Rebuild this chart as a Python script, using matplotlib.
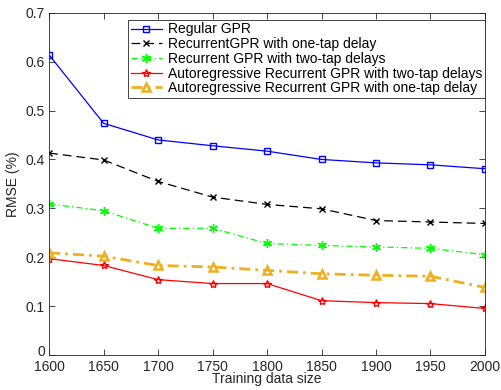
import matplotlib
matplotlib.use("Agg")
import matplotlib.pyplot as plt
import matplotlib.transforms as mtransforms

#------------------------------- DATA -----------------------------------------

sizes = [1600, 1650, 1700, 1750, 1800, 1850, 1900, 1950, 2000]

regular_gpr = [0.614, 0.474, 0.440, 0.428, 0.417, 0.400, 0.393, 0.389, 0.381]
rgpr_one_tap = [0.413, 0.399, 0.355, 0.323, 0.308, 0.299, 0.275, 0.272, 0.269]
rgpr_two_tap = [0.309, 0.295, 0.259, 0.259, 0.228, 0.224, 0.221, 0.218, 0.205]
argpr_two_tap = [0.197, 0.183, 0.154, 0.146, 0.146, 0.111, 0.107, 0.105, 0.095]
argpr_one_tap = [0.209, 0.202, 0.183, 0.180, 0.173, 0.166, 0.163, 0.161, 0.138]

labels = ["Regular GPR",
          "RecurrentGPR with one-tap delay",
          "Recurrent GPR with two-tap delays",
          "Autoregressive Recurrent GPR with two-tap delays",
          "Autoregressive Recurrent GPR with one-tap delay"]

#------------------------------- PLOT -----------------------------------------

plt.rcParams["font.family"] = ["Liberation Sans", "DejaVu Sans"]
plt.rcParams["font.size"] = 10

fig = plt.figure(figsize=(5.01, 3.90), dpi=100)
ax = fig.add_axes([0.098, 0.09, 0.870, 0.877])

asterisk = (6, 2, 0)

ax.plot(sizes, regular_gpr, color="#0000ff", lw=0.9, marker="s", ms=4
        , mfc="none", mec="#0000ff", label=labels[0])
ax.plot(sizes, rgpr_one_tap, color="black", lw=0.9, dashes=(7, 4)
        , marker="x", ms=4.5, label=labels[1])
ax.plot(sizes, rgpr_two_tap, color="#00ff00", lw=0.9, dashes=(5, 2.5, 1, 2.5)
        , marker=asterisk, ms=6.5, mew=1.0, label=labels[2])
ax.plot(sizes, argpr_two_tap, color="#ff0000", lw=0.9, marker="*", ms=6
        , mfc="none", mec="#ff0000", mew=1.0, label=labels[3])
ax.plot(sizes, argpr_one_tap, color="#edb120", lw=2, dashes=(4, 1.8, 1, 1.8)
        , marker="^", ms=6, mfc="none", mec="#edb120", mew=1.8
        , label=labels[4])

ax.set_xlim(1600, 2000)
ax.set_ylim(0, 0.7)
ax.set_xticks(sizes)
ax.set_yticks([0, 0.1, 0.2, 0.3, 0.4, 0.5, 0.6, 0.7])
ax.set_yticklabels(["0", "0.1", "0.2", "0.3", "0.4", "0.5", "0.6", "0.7"])

#matlab style axes
ax.tick_params(direction="in", top=True, right=True, length=4, width=0.6
               , colors="#262626", labelcolor="#262626")
ax.tick_params(axis="x", pad=3.5)
ax.tick_params(axis="y", pad=3)
for spine in ax.spines.values():
    spine.set_linewidth(0.6)
    spine.set_color("#262626")

#nudge the "0" label up a little so it clears "1600"
zero_label = ax.get_yticklabels()[0]
zero_label.set_transform(zero_label.get_transform()
                         + mtransforms.ScaledTranslation(0, 3 / 72
                                                         , fig.dpi_scale_trans))

ax.set_xlabel("Training data size", color="#262626", labelpad=-1)
ax.set_ylabel("RMSE (%)", color="#262626", labelpad=4)

leg = ax.legend(loc="upper right", bbox_to_anchor=(1.0, 0.98)
                , fancybox=False, framealpha=1, edgecolor="#262626"
                , borderpad=0.2, labelspacing=0.05, handlelength=2.2
                , handletextpad=0.45, borderaxespad=0)
leg.get_frame().set_linewidth(0.6)

fig.savefig("out.png", dpi=100)
